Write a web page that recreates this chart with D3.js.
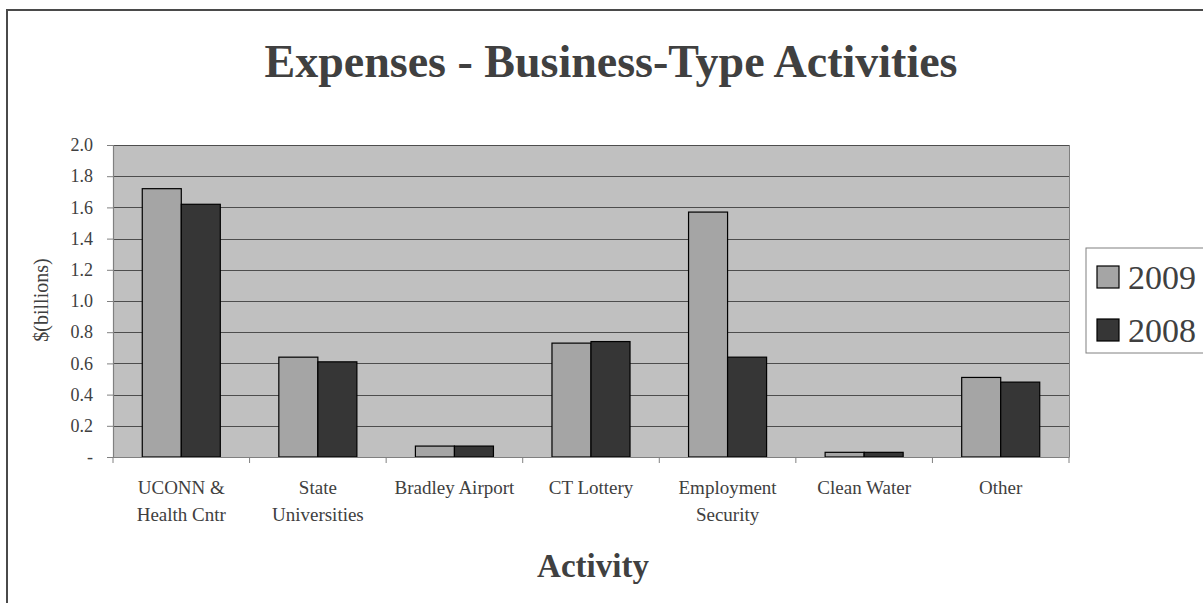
<!DOCTYPE html>
<html>
<head>
<meta charset="utf-8">
<script src="https://cdn.jsdelivr.net/npm/d3@7"></script>
<style>
  html, body { margin: 0; padding: 0; background: #ffffff; }
  svg { display: block; }
  text { font-family: "Liberation Serif", "Times New Roman", serif; fill: #404040; }
</style>
</head>
<body>
<svg id="chart" width="1203" height="603"></svg>
<script>
// ---- data ----
const categories = ["UCONN & Health Cntr", "State Universities", "Bradley Airport", "CT Lottery", "Employment Security", "Clean Water", "Other"];
const categoryLines = [["UCONN &", "Health Cntr"], ["State", "Universities"], ["Bradley Airport"], ["CT Lottery"], ["Employment", "Security"], ["Clean Water"], ["Other"]];
const seriesNames = ["2009", "2008"];
const values2009 = [1.72, 0.64, 0.07, 0.73, 1.57, 0.03, 0.51];
const values2008 = [1.62, 0.61, 0.07, 0.74, 0.64, 0.03, 0.48];
const yTicks = [0, 0.2, 0.4, 0.6, 0.8, 1.0, 1.2, 1.4, 1.6, 1.8, 2.0];
const titleText = "Expenses - Business-Type Activities";
const xTitle = "Activity";
const yTitle = "$(billions)";

const seriesValues = [values2009, values2008];
const colors = ["#a5a5a5", "#363636"];

const svg = d3.select("#chart");

// outer chart border
svg.append("rect").attr("x", 7).attr("y", 10).attr("width", 1300).attr("height", 700)
  .attr("fill", "none").attr("stroke", "#4a4a4a").attr("stroke-width", 2);

const plot = { left: 113, right: 1069, top: 145, bottom: 457 };

const x = d3.scaleBand().domain(categories).range([plot.left, plot.right]).paddingInner(0).paddingOuter(0);
const xs = d3.scaleBand().domain(seriesNames).range([0, x.bandwidth()]).paddingInner(0).paddingOuter(0.75);
const y = d3.scaleLinear().domain([0, 2]).range([plot.bottom, plot.top]);

// plot background
svg.append("rect").attr("x", plot.left).attr("y", plot.top)
  .attr("width", plot.right - plot.left).attr("height", plot.bottom - plot.top)
  .attr("fill", "#c0c0c0");

// gridlines
svg.append("g").selectAll("line").data(yTicks.filter(d => d > 0)).join("line")
  .attr("x1", plot.left).attr("x2", plot.right)
  .attr("y1", d => Math.round(y(d)) + 0.5).attr("y2", d => Math.round(y(d)) + 0.5)
  .attr("stroke", "#4d4d4d").attr("stroke-width", 1.2);

// right border of plot area
svg.append("line").attr("x1", plot.right + 0.5).attr("x2", plot.right + 0.5)
  .attr("y1", plot.top).attr("y2", plot.bottom).attr("stroke", "#808080");

// bars
const groups = svg.append("g").selectAll("g").data(categories).join("g")
  .attr("transform", d => `translate(${x(d)},0)`);
groups.selectAll("rect").data((d, i) => seriesNames.map((s, j) => ({ s, v: seriesValues[j][i], j })))
  .join("rect")
  .attr("x", d => xs(d.s))
  .attr("width", xs.bandwidth())
  .attr("y", d => y(d.v))
  .attr("height", d => y(0) - y(d.v))
  .attr("fill", d => colors[d.j])
  .attr("stroke", "#000").attr("stroke-width", 1.2);

// y axis
const yAxis = d3.axisLeft(y).tickValues(yTicks).tickSize(6).tickPadding(14)
  .tickFormat(d => d === 0 ? "-" : d3.format(".1f")(d));
const gy = svg.append("g").attr("transform", `translate(${plot.left},0)`).call(yAxis);
gy.select(".domain").attr("stroke", "#808080").attr("stroke-width", 1.2);
gy.selectAll(".tick line").attr("stroke", "#808080");
gy.selectAll(".tick text").attr("font-size", 18).attr("font-family", "Liberation Serif").attr("fill", "#404040");

// x axis
const xAxis = d3.axisBottom(x).tickSize(0).tickFormat("");
const gx = svg.append("g").attr("transform", `translate(0,${plot.bottom})`).call(xAxis);
gx.select(".domain").attr("stroke", "#808080").attr("stroke-width", 1.2);
gx.selectAll(".tick").remove();
// category boundary ticks
const boundaries = categories.map(c => x(c)).concat([plot.right]);
gx.selectAll(".bt").data(boundaries).join("line").attr("class", "bt")
  .attr("x1", d => d).attr("x2", d => d).attr("y1", 0).attr("y2", 6)
  .attr("stroke", "#808080");

// category labels
const lab = svg.append("g").selectAll("text").data(categories).join("text")
  .attr("text-anchor", "middle").attr("font-size", 19)
  .attr("transform", d => `translate(${x(d) + x.bandwidth() / 2},${plot.bottom + 37})`);
lab.selectAll("tspan").data((d, i) => categoryLines[i]).join("tspan")
  .attr("x", 0).attr("dy", (d, i) => i === 0 ? 0 : 27).text(d => d);

// title
svg.append("text").attr("x", 611).attr("y", 77).attr("text-anchor", "middle")
  .attr("font-size", 46).attr("font-weight", "bold").text(titleText);

// x title
svg.append("text").attr("x", 593).attr("y", 577).attr("text-anchor", "middle")
  .attr("font-size", 33).attr("font-weight", "bold").text(xTitle);

// y title
svg.append("text").attr("transform", "translate(48,300) rotate(-90)")
  .attr("text-anchor", "middle").attr("font-size", 20).text(yTitle);

// legend
const lg = svg.append("g");
lg.append("rect").attr("x", 1086).attr("y", 248).attr("width", 140).attr("height", 105)
  .attr("fill", "#fff").attr("stroke", "#808080");
const items = lg.selectAll("g").data(seriesNames).join("g")
  .attr("transform", (d, i) => `translate(1097,${266 + i * 53})`);
items.append("rect").attr("width", 22).attr("height", 22)
  .attr("fill", (d, i) => colors[i]).attr("stroke", "#000").attr("stroke-width", 1.2);
items.append("text").attr("x", 31).attr("y", 23).attr("font-size", 34).text(d => d);
</script>
</body>
</html>
